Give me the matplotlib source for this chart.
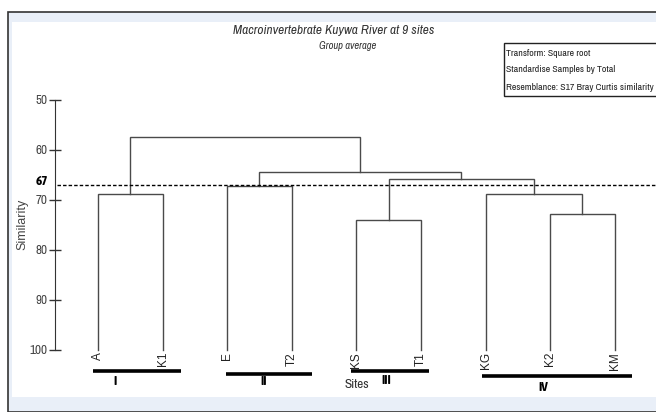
import matplotlib
matplotlib.use("Agg")
import matplotlib.pyplot as plt
from matplotlib import font_manager
from matplotlib.patches import Rectangle

# ---- data ----
sites = ["A", "K1", "E", "T2", "KS", "T1", "KG", "K2", "KM"]
# merges in linkage style: leaves are 0..8, new clusters numbered from 9
merge_left = [0, 2, 4, 7, 6, 11, 10, 9]
merge_right = [1, 3, 5, 8, 12, 13, 14, 15]
merge_sim = [68.7, 67.2, 74.0, 72.7, 68.8, 65.7, 64.3, 57.3]
cut_level = 67
group_names = ["I", "II", "III", "IV"]
group_members = [[0, 1], [2, 3], [4, 5], [6, 7, 8]]
info_lines = ["Transform: Square root",
              "Standardise Samples by Total",
              "Resemblance: S17 Bray Curtis similarity"]

W, H = 656, 412
font_names = {f.name for f in font_manager.fontManager.ttflist}
plain = "Liberation Sans"
narrow = "Archivo Narrow" if "Archivo Narrow" in font_names else plain
narrow_bold = "Asap Condensed" if "Asap Condensed" in font_names else plain


def fx(x):
    return x / W


def fy(y):
    return 1 - y / H


fig = plt.figure(figsize=(W / 100, H / 100), dpi=100, facecolor="white")
# light blue frame behind the plot
fig.patches.append(Rectangle((fx(8), 0), 1, fy(12), transform=fig.transFigure,
                             facecolor="#E9EFF8", edgecolor="#333333", lw=1.2, zorder=-10))

ax = fig.add_axes([fx(12), 15 / H, 644 / W, 375 / H])
ax.set_zorder(1)
ax.set_facecolor("white")
ax.set_xlim(-1.331, 8.638)
ax.set_ylim(109.4, 34.4)

# dendrogram
xpos = {i: float(i) for i in range(len(sites))}
ypos = {i: 100.0 for i in range(len(sites))}
line_col = "#4a4a4a"
for k, (a, b, s) in enumerate(zip(merge_left, merge_right, merge_sim)):
    node = len(sites) + k
    ax.plot([xpos[a], xpos[a], xpos[b], xpos[b]], [ypos[a], s, s, ypos[b]],
            color=line_col, lw=1.0, solid_joinstyle="miter")
    xpos[node] = (xpos[a] + xpos[b]) / 2
    ypos[node] = s

# cut line
ax.plot([-0.635, 8.62], [cut_level, cut_level], color="black", lw=1.0,
        linestyle=(0, (2.5, 1.5)))
ax.text(-0.867, cut_level - 0.7, str(cut_level), ha="center", va="center",
        fontsize=9.5, fontweight="bold", family=narrow_bold, color="black")

# y axis
for s in ["top", "right", "bottom"]:
    ax.spines[s].set_visible(False)
ax.spines["left"].set_position(("data", -0.666))
ax.spines["left"].set_bounds(50, 100)
ax.spines["left"].set_color("#333333")
ax.set_yticks(range(50, 101, 10))
ax.tick_params(axis="y", direction="inout", length=9, width=1, color="#333333",
               labelsize=9.5, labelcolor="#444444", pad=1)
for lab in ax.get_yticklabels():
    lab.set_family(narrow)
ax.set_xticks([])
fig.text(fx(22), fy(224), "Similarity", rotation=90, ha="center", va="center",
         fontsize=9, family=plain, color="#444444")

# leaf labels
for i, name in enumerate(sites):
    ax.text(i, 100.4, name, rotation=90, ha="center", va="top", fontsize=8.5,
            family=plain, color="#222222")

# group bars and roman numerals
bar_pad_left = [0.08, 0.02, 0.08, 0.05]
bar_pad_right = [0.29, 0.31, 0.12, 0.26]
bar_y = [104.1, 104.7, 104.1, 105.1]
label_x = [0.27, 2.56, 4.46, 6.90]
label_y = [106.3, 106.3, 106.2, 107.5]
for g, members in enumerate(group_members):
    x0 = members[0] - bar_pad_left[g]
    x1 = members[-1] + bar_pad_right[g]
    ax.plot([x0, x1], [bar_y[g], bar_y[g]], color="black", lw=2.6,
            solid_capstyle="butt")
    ax.text(label_x[g], label_y[g], group_names[g], ha="center", va="center",
            fontsize=9.5, fontweight="bold", family=narrow_bold, color="black")
fig.text(fx(357), fy(385), "Sites", ha="center", va="center", fontsize=9.5,
         family=narrow, color="#333333")

# titles
fig.text(fx(334), fy(31), "Macroinvertebrate Kuywa River at 9 sites", ha="center",
         va="center", fontsize=9.6, style="italic", family=narrow, color="#333333")
fig.text(fx(348), fy(46), "Group average", ha="center", va="center", fontsize=7.6,
         style="italic", family=narrow, color="#333333")

# info box
fig.patches.append(Rectangle((fx(504), fy(96)), 1, (96 - 43) / H, transform=fig.transFigure,
                             facecolor="white", edgecolor="#222222", lw=1.0, zorder=3))
for j, line in enumerate(info_lines):
    fig.text(fx(505.5), fy(53 + 17 * j), line, ha="left", va="center", fontsize=7.1,
             family=narrow, color="#222222", zorder=4)

fig.savefig("out.png", dpi=100, facecolor="white")
